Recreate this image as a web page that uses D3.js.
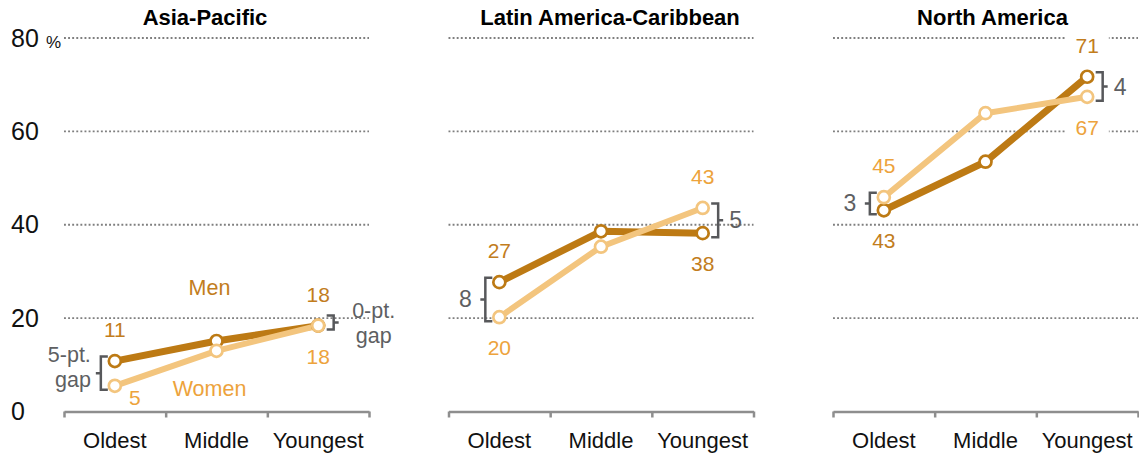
<!DOCTYPE html>
<html>
<head>
<meta charset="utf-8">
<script src="https://cdn.jsdelivr.net/npm/d3@7"></script>
<style>
  html, body { margin: 0; padding: 0; background: #fff; }
  svg { display: block; font-family: "Liberation Sans", Arial, sans-serif; }
</style>
</head>
<body>
<script>
// ---------- data ----------
const categories = ["Oldest", "Middle", "Youngest"];
const regions = ["Asia-Pacific", "Latin America-Caribbean", "North America"];
const seriesNames = ["Men", "Women"];
const menValues = [[10.8, 15.1, 18.4], [27.7, 38.6, 38.2], [43.1, 53.5, 71.7]];
const womenValues = [[5.5, 13.0, 18.4], [20.2, 35.3, 43.6], [45.9, 63.9, 67.4]];
const menLabels = [["11", "18"], ["27", "38"], ["43", "71"]];
const womenLabels = [["5", "18"], ["20", "43"], ["45", "67"]];
const gapLabels = [["5-pt.|gap", "0-pt.|gap"], ["8", "5"], ["3", "4"]];
const yTicks = [0, 20, 40, 60, 80];

// ---------- styles ----------
const MEN_LINE = "#BD7A14", WOMEN_LINE = "#F3C57E";
const MEN_TEXT = "#C27D1D", WOMEN_TEXT = "#EDA33C";
const GRAY_TEXT = "#5E5F62", BRACKET = "#57585B";

const svg = d3.select("body").append("svg").attr("width", 1139).attr("height", 455);
const y = d3.scaleLinear().domain([0, 80]).range([411.5, 38]);
const W = 305;
const panelX = [64, 448.5, 833];
const titleDx = [-11.5, 9, 7];

// y axis labels (first panel only)
svg.append("g").selectAll("text").data(yTicks).join("text")
  .attr("x", 11).attr("y", d => y(d) + 8.5)
  .attr("font-size", 25).attr("fill", "#111")
  .text(d => d);
svg.append("text").attr("x", 46).attr("y", y(80) + 9.5)
  .attr("font-size", 17).attr("fill", "#111").text("%");

const haloCandidates = [];

regions.forEach((name, i) => {
  const g = svg.append("g").attr("transform", `translate(${panelX[i]},0)`);
  const x = d3.scaleBand().domain(categories).range([0, W]).padding(0);
  const cx = c => x(c) + x.bandwidth() / 2;

  // gridlines
  g.append("g").selectAll("line").data(yTicks.filter(d => d > 0)).join("line")
    .attr("x1", 0).attr("x2", W)
    .attr("y1", d => y(d)).attr("y2", d => y(d))
    .attr("stroke", "#7f7f7f").attr("stroke-width", 1.9)
    .attr("stroke-dasharray", "1.9 2.2");

  // x axis with ticks at band edges
  const xe = d3.scaleLinear().domain([0, categories.length]).range([0, W]);
  const ax = g.append("g").attr("transform", `translate(0,${y(0)})`)
    .call(d3.axisBottom(xe).tickValues(d3.range(categories.length + 1))
      .tickSize(6).tickSizeOuter(0).tickFormat(""));
  ax.select(".domain").attr("stroke", "#8e8e8e").attr("stroke-width", 2.5);
  ax.selectAll(".tick line").attr("stroke", "#8e8e8e").attr("stroke-width", 2.5);

  // category labels
  g.append("g").selectAll("text").data(categories).join("text")
    .attr("x", d => cx(d)).attr("y", 448)
    .attr("text-anchor", "middle").attr("font-size", 22).attr("fill", "#111")
    .text(d => d);

  // title
  g.append("text").attr("x", W / 2 + titleDx[i]).attr("y", 25)
    .attr("text-anchor", "middle").attr("font-size", 22).attr("font-weight", "bold")
    .attr("fill", "#000").text(name);

  const series = [
    { name: seriesNames[0], values: menValues[i], labels: menLabels[i], line: MEN_LINE, text: MEN_TEXT, width: 7 },
    { name: seriesNames[1], values: womenValues[i], labels: womenLabels[i], line: WOMEN_LINE, text: WOMEN_TEXT, width: 6 }
  ];
  const lineGen = d3.line().x((d, j) => cx(categories[j])).y(d => y(d));

  series.forEach(s => {
    g.append("path").datum(s.values).attr("d", lineGen)
      .attr("fill", "none").attr("stroke", s.line).attr("stroke-width", s.width)
      .attr("stroke-linejoin", "round");
  });
  series.forEach(s => {
    g.append("g").selectAll("circle").data(s.values).join("circle")
      .attr("cx", (d, j) => cx(categories[j])).attr("cy", d => y(d))
      .attr("r", 6).attr("fill", "#fff").attr("stroke", s.line).attr("stroke-width", 2.7);
  });

  // value labels at ends
  const labelLayer = g.append("g");
  [0, categories.length - 1].forEach((j, k) => {
    const m = menValues[i][j], w = womenValues[i][j];
    const menAbove = m >= w;
    series.forEach((s, si) => {
      const v = s.values[j];
      const above = si === 0 ? menAbove : !menAbove;
      let tx = cx(categories[j]);
      let ty = above ? y(v) - 24 : y(v) + 38;
      if (!above && ty > 400) { tx += 20; ty = y(v) + 19.5; }
      const t = labelLayer.append("text").attr("x", tx).attr("y", ty)
        .attr("text-anchor", "middle").attr("font-size", 21).attr("fill", s.text)
        .text(s.labels[k]);
      haloCandidates.push({ g: labelLayer, t: t });
    });

    // gap bracket
    const side = j === 0 ? -1 : 1;
    const bx = cx(categories[j]) + side * (j === 0 ? 14 : 15.5);
    let top = y(Math.max(m, w)) - 4.5;
    const bot = y(Math.min(m, w)) + 4;
    if (bot - top < 14) top = bot - 14;
    const mid = (top + bot) / 2;
    g.append("path")
      .attr("d", `M${bx - side * 7},${top}H${bx}V${bot}H${bx - side * 7}M${bx},${mid}H${bx + side * 5}`)
      .attr("fill", "none").attr("stroke", BRACKET).attr("stroke-width", 2.5);

    const parts = gapLabels[i][k].split("|");
    if (parts.length === 1) {
      g.append("text").attr("x", side < 0 ? bx - 13.5 : bx + 11).attr("y", mid + 8)
        .attr("text-anchor", side < 0 ? "end" : "start")
        .attr("font-size", 23).attr("fill", GRAY_TEXT).text(parts[0]);
    } else {
      const lx = side < 0 ? bx - 10 : bx + 40;
      const base = side < 0 ? mid - 11 : mid - 5;
      g.append("g").selectAll("text").data(parts).join("text")
        .attr("x", lx).attr("y", (d, n) => base + n * 25)
        .attr("text-anchor", side < 0 ? "end" : "middle")
        .attr("font-size", 21.5).attr("fill", GRAY_TEXT).text(d => d);
    }
  });

  // series name labels (first panel)
  if (i === 0) {
    const mj = 1, mxp = cx(categories[mj]) - 7;
    g.append("text").attr("x", mxp).attr("y", y(menValues[i][mj]) - 46)
      .attr("text-anchor", "middle").attr("font-size", 21.5).attr("fill", MEN_TEXT).text(seriesNames[0]);
    g.append("text").attr("x", mxp).attr("y", y(womenValues[i][mj]) + 45)
      .attr("text-anchor", "middle").attr("font-size", 21.5).attr("fill", WOMEN_TEXT).text(seriesNames[1]);
  }
});

// white halos behind value labels that sit on a gridline
const gridYs = yTicks.filter(d => d > 0).map(d => y(d));
haloCandidates.forEach(h => {
  const b = h.t.node().getBBox();
  const hit = gridYs.some(gy => gy > b.y + 2 && gy < b.y + b.height - 2);
  if (hit) {
    h.g.insert("rect", () => h.t.node())
      .attr("x", b.x - 10).attr("y", b.y).attr("width", b.width + 20).attr("height", b.height)
      .attr("fill", "#fff");
  }
});
</script>
</body>
</html>
